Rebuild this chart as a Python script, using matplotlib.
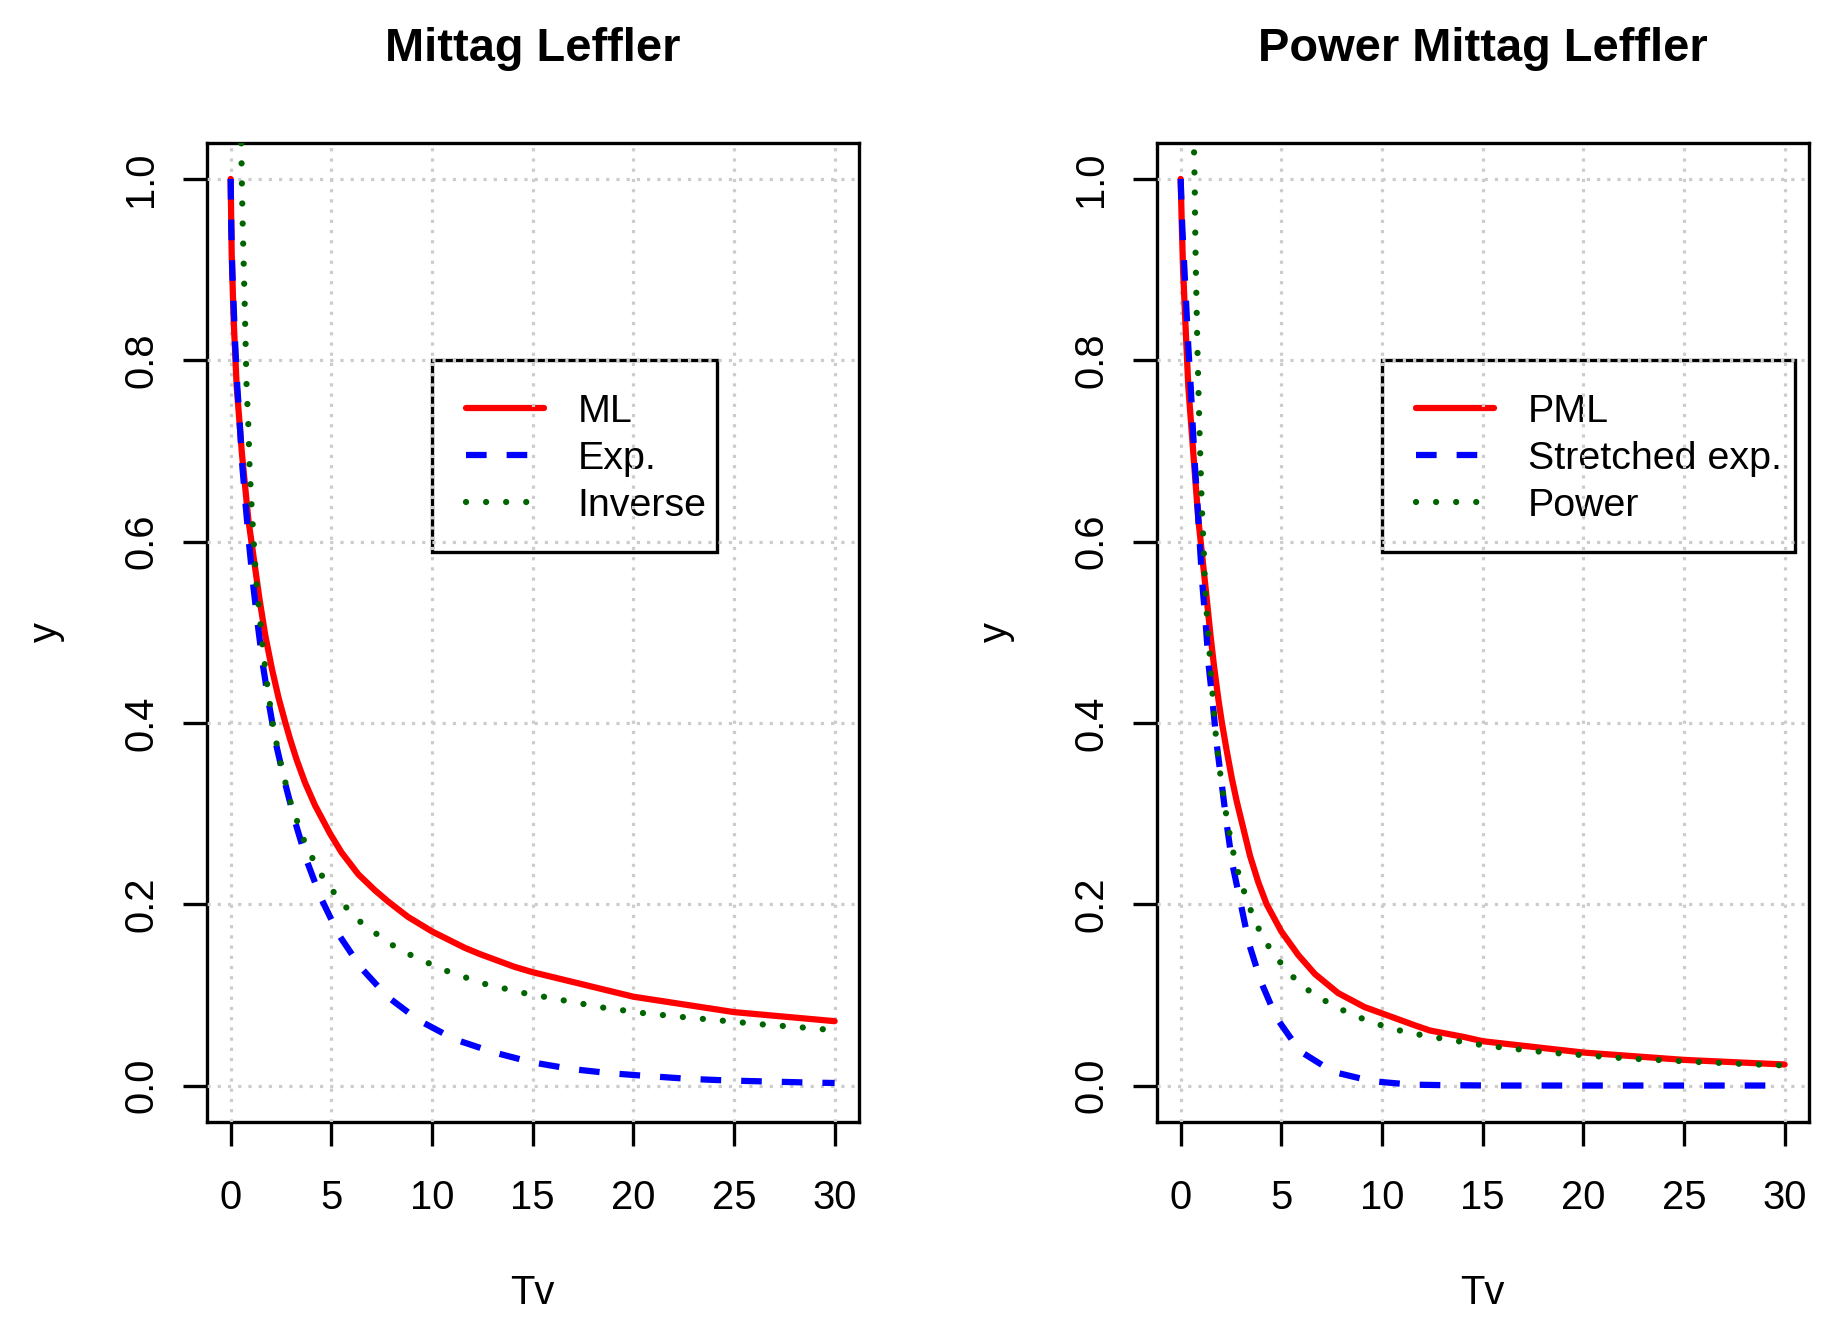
import matplotlib
matplotlib.use("Agg")
import matplotlib.pyplot as plt
from matplotlib.patches import Rectangle

# ---------------- data ----------------
# Left panel: Mittag Leffler
ml_x = [0, 0.05, 0.15, 0.30, 0.56, 0.88, 1.436, 1.716, 2.046, 2.376, 2.706, 2.954, 3.284,
        3.696, 4.191, 4.934, 5.51, 6.34, 7.16, 7.82, 8.81, 10.0, 11.62, 12.38, 14.09, 15,
        20, 25, 30]
ml_y = [1.0, 0.918, 0.844, 0.771, 0.697, 0.624, 0.536, 0.497, 0.460, 0.428, 0.401, 0.382,
        0.359, 0.334, 0.309, 0.278, 0.257, 0.233, 0.2155, 0.203, 0.186, 0.170, 0.152, 0.145,
        0.131, 0.125, 0.098, 0.081, 0.071]

exp_x = [0, 0.03, 0.08, 0.15, 0.23, 0.33, 0.46, 0.58, 0.75, 0.93, 1.13, 1.35, 1.60, 1.91,
         2.26, 2.71, 3.20, 3.78, 4.46, 5.35, 6.47, 7.79, 9.34, 11.12, 13.05, 14.95, 16.9,
         18.84, 20.83, 22.8, 24.8, 26.75, 28.74, 30]
exp_y = [1.0, 0.947, 0.900, 0.859, 0.815, 0.771, 0.727, 0.683, 0.639, 0.594, 0.550, 0.508,
         0.464, 0.420, 0.376, 0.333, 0.291, 0.248, 0.208, 0.167, 0.130, 0.098, 0.072, 0.051,
         0.0367, 0.0257, 0.0183, 0.0136, 0.0103, 0.0073, 0.0055, 0.0044, 0.0033, 0.0028]

inv_x = [0.45, 0.53, 0.56, 0.60, 0.65, 0.70, 0.745, 0.79, 0.88, 0.94, 1.04, 1.16, 1.29, 1.39,
         1.58, 1.815, 2.10, 2.49, 2.99, 3.65, 4.08, 4.57, 5.13, 5.76, 6.47, 7.26, 8.10, 8.94,
         9.83, 10.78, 11.70, 12.64, 14.57, 16.52, 18.49, 20.46, 22.42, 24.40, 26.37, 28.33, 30]
inv_y = [1.15, 1.036, 0.992, 0.948, 0.904, 0.860, 0.816, 0.772, 0.728, 0.683, 0.639, 0.595,
         0.551, 0.529, 0.486, 0.442, 0.397, 0.354, 0.311, 0.270, 0.250, 0.230, 0.213, 0.196,
         0.180, 0.167, 0.154, 0.144, 0.135, 0.126, 0.119, 0.112, 0.102, 0.094, 0.086, 0.080,
         0.0756, 0.0716, 0.0675, 0.0642, 0.061]

# Right panel: Power Mittag Leffler
pml_x = [0, 0.05, 0.12, 0.23, 0.38, 0.63, 0.88, 1.30, 1.47, 1.66, 1.88, 2.05, 2.29, 2.54,
         2.79, 3.12, 3.45, 3.86, 4.27, 5.0, 5.84, 6.67, 7.82, 9.14, 10.0, 11.62, 12.38,
         14.09, 15, 20, 25, 30]
pml_y = [1.0, 0.955, 0.900, 0.844, 0.771, 0.697, 0.624, 0.536, 0.499, 0.462, 0.425, 0.400,
         0.369, 0.339, 0.313, 0.283, 0.253, 0.224, 0.200, 0.170, 0.144, 0.123, 0.102,
         0.0865, 0.0796, 0.0665, 0.0607, 0.0535, 0.0489, 0.0364, 0.0283, 0.0232]

sexp_x = [0, 0.08, 0.18, 0.28, 0.38, 0.50, 0.60, 0.71, 0.84, 0.96, 1.09, 1.25, 1.39, 1.60,
          1.80, 2.05, 2.29, 2.57, 2.99, 3.40, 3.98, 4.75, 5.92, 7.57, 9.50, 11.45, 13.4, 16,
          20, 25, 30]
sexp_y = [1.0, 0.947, 0.903, 0.859, 0.815, 0.771, 0.727, 0.683, 0.639, 0.594, 0.550, 0.508,
          0.464, 0.420, 0.375, 0.331, 0.288, 0.244, 0.200, 0.156, 0.115, 0.075, 0.038,
          0.0151, 0.0048, 0.001, 0.0003, 0.0, 0.0, 0.0, 0.0]

pow_x = [0.60, 0.66, 0.70, 0.72, 0.75, 0.79, 0.83, 0.88, 0.93, 0.99, 1.05, 1.14, 1.21, 1.27,
         1.34, 1.42, 1.47, 1.55, 1.63, 1.70, 1.80, 1.91, 2.05, 2.19, 2.34, 2.54, 2.74, 3.02,
         3.33, 3.70, 4.14, 4.69, 5.31, 6.02, 6.82, 7.69, 8.60, 9.52, 10.46, 11.40, 12.38,
         13.38, 14.37, 15.36, 16.32, 17.30, 18.29, 19.29, 20.26, 21.26, 22.25, 23.23, 24.24,
         25.21, 26.21, 27.2, 28.2, 29.19, 30]
pow_y = [1.14, 1.036, 0.992, 0.948, 0.904, 0.860, 0.816, 0.772, 0.728, 0.683, 0.639, 0.595,
         0.551, 0.529, 0.507, 0.485, 0.463, 0.441, 0.419, 0.397, 0.375, 0.353, 0.331, 0.309,
         0.288, 0.265, 0.244, 0.223, 0.202, 0.181, 0.161, 0.143, 0.126, 0.110, 0.098, 0.087,
         0.0774, 0.0697, 0.063, 0.058, 0.054, 0.0504, 0.0467, 0.0434, 0.0412, 0.0386, 0.0364,
         0.0346, 0.0331, 0.0313, 0.0298, 0.0287, 0.0276, 0.0265, 0.0254, 0.0246, 0.0235,
         0.0228, 0.0222]

titles = ["Mittag Leffler", "Power Mittag Leffler"]
labels_left = ["ML", "Exp.", "Inverse"]
labels_right = ["PML", "Stretched exp.", "Power"]
xticks = [0, 5, 10, 15, 20, 25, 30]
yticks = [0.0, 0.2, 0.4, 0.6, 0.8, 1.0]
xlabel = "Tv"
ylabel = "y"

# ---------------- styling ----------------
plt.rcParams['font.family'] = ['Liberation Sans', 'DejaVu Sans']
W, H = 1847, 1328
fig = plt.figure(figsize=(W / 100, H / 100), dpi=100)

LW = 4.5
solid = dict(color='#FF0000', lw=LW, solid_capstyle='round', solid_joinstyle='round')
dashed = dict(color='#0000FF', lw=LW, linestyle=(0, (3.3, 3.2)), dash_capstyle='butt',
              dash_joinstyle='round')
dotted = dict(color='#006400', lw=LW, linestyle=(0, (0.01, 3.2)), dash_capstyle='round')

ax_bottom = 1 - 1121.8 / H
ax_h = 979.1 / H
ax_w = 652.3 / W
lefts = [206.5 / W, 1156.5 / W]

panels = [
    (titles[0], [(ml_x, ml_y, solid), (exp_x, exp_y, dashed), (inv_x, inv_y, dotted)],
     labels_left, 24.14),
    (titles[1], [(pml_x, pml_y, solid), (sexp_x, sexp_y, dashed), (pow_x, pow_y, dotted)],
     labels_right, 30.5),
]

LEG_FS = 28.4
LEG_PX = LEG_FS * 100 / 72

for left, (title, series, labs, box_right) in zip(lefts, panels):
    ax = fig.add_axes([left, ax_bottom, ax_w, ax_h])
    handles = []
    for (xs, ys, st), lab in zip(series, labs):
        h, = ax.plot(xs, ys, label=lab, zorder=3, **st)
        handles.append(h)
    ax.set_xlim(-1.2, 31.2)
    ax.set_ylim(-0.04, 1.04)
    ax.set_xticks(xticks)
    ax.set_yticks(yticks)
    ax.set_xticklabels([str(t) for t in xticks])
    ax.set_yticklabels([f"{t:.1f}" for t in yticks], rotation=90, va='center')
    for s in ax.spines.values():
        s.set_linewidth(2.4)
        s.set_color('black')
    ax.tick_params(axis='both', which='major', length=17.3, width=2.4, labelsize=28.8,
                   direction='out', top=False, right=False)
    ax.tick_params(axis='x', pad=24)
    ax.tick_params(axis='y', pad=16)
    ax.set_axisbelow(False)
    ax.grid(True, color='#CCCCCC', lw=2.3, linestyle=(0, (1, 2.2)))
    for gl in ax.get_xgridlines() + ax.get_ygridlines():
        gl.set_zorder(6)

    ax.set_xlabel(xlabel, fontsize=28.8)
    ax.xaxis.set_label_coords(0.5, -(1304 - 1121.8) / 979.1)
    ax.xaxis.label.set_va('baseline')
    ax.set_ylabel(ylabel, fontsize=28.8)
    ax.yaxis.set_label_coords(-(206.5 - 46) / 652.3, 0.5)
    ax.yaxis.label.set_va('center')

    ax.text(0.5, 1 + (142.7 - 61) / 979.1, title, transform=ax.transAxes,
            ha='center', va='baseline', fontsize=33.8, fontweight='bold')

    # legend box (legend anchored at x=10, y=0.8)
    ax.add_patch(Rectangle((10, 0.589), box_right - 10, 0.8 - 0.589, fill=False,
                           edgecolor='black', lw=2.4, zorder=1.5))
    leg = ax.legend(handles=handles, loc='upper left', bbox_to_anchor=(10, 0.8),
                    bbox_transform=ax.transData, frameon=False, fontsize=LEG_FS,
                    borderpad=34 / LEG_PX, handlelength=77.7 / LEG_PX,
                    handletextpad=34 / LEG_PX, labelspacing=0.27, borderaxespad=0)
    leg.set_zorder(2)

fig.savefig("out.png", dpi=100)
